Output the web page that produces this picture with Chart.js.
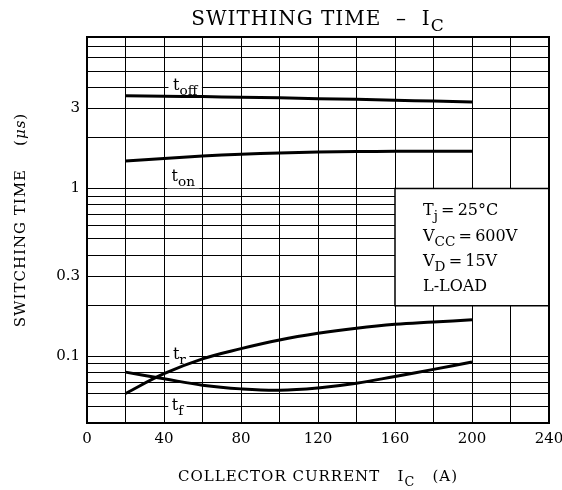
<!DOCTYPE html>
<html lang="en">
<head>
<meta charset="UTF-8">
<title>Switching Time - Ic</title>
<script src="https://cdn.jsdelivr.net/npm/chart.js"></script>
<style>
  html, body { margin: 0; padding: 0; background: #fff; }
  canvas { display: block; }
</style>
</head>
<body>
<canvas id="chart" width="562" height="490"></canvas>
<script>
  // values (Ic in A, times in microseconds)
  const currents = [20, 40, 60, 80, 100, 120, 140, 160, 180, 200];
  const tOff = [3.57, 3.55, 3.53, 3.50, 3.47, 3.43, 3.40, 3.36, 3.32, 3.28];
  const tOn  = [1.46, 1.51, 1.56, 1.60, 1.63, 1.65, 1.66, 1.665, 1.665, 1.665];
  const tR   = [0.060, 0.0787, 0.0965, 0.111, 0.125, 0.137, 0.147, 0.155, 0.160, 0.165];
  const tF   = [0.0804, 0.0734, 0.0672, 0.0639, 0.0627, 0.0647, 0.069, 0.0758, 0.0835, 0.0924];

  const yGridValues = [0.04, 0.05, 0.06, 0.07, 0.08, 0.09, 0.1, 0.2, 0.3, 0.4, 0.5, 0.6, 0.7, 0.8, 0.9, 1, 2, 3, 4, 5, 6, 7, 8];
  const yTickLabels = [0.1, 0.3, 1, 3];
  const xTickLabels = [0, 40, 80, 120, 160, 200, 240];

  const SERIF = '"DejaVu Serif", serif';

  function pts(ys) {
    return currents.map((x, i) => ({ x: x, y: ys[i] }));
  }

  // draws text made of parts: [[text, 'sub'|'it'|undefined], ...]
  function richText(ctx, parts, x, y, size, align, spacing) {
    const fontOf = kind => (kind === 'it' ? 'italic ' : '') + (kind === 'sub' ? size * 0.85 : size) + 'px ' + SERIF;
    ctx.letterSpacing = (spacing || 0) + 'px';
    const widths = parts.map(([t, kind]) => { ctx.font = fontOf(kind); return ctx.measureText(t).width; });
    const total = widths.reduce((a, b) => a + b, 0);
    let cx = align === 'center' ? x - total / 2 : (align === 'right' ? x - total : x);
    ctx.textAlign = 'left';
    ctx.textBaseline = 'alphabetic';
    parts.forEach(([t, kind], i) => {
      ctx.font = fontOf(kind);
      ctx.fillText(t, cx, kind === 'sub' ? y + size * 0.3 : y);
      cx += widths[i];
    });
    ctx.letterSpacing = '0px';
    return total;
  }

  const annotations = {
    id: 'annotations',
    beforeDraw(chart) {
      const ctx = chart.ctx;
      ctx.save();
      ctx.fillStyle = '#fff';
      ctx.fillRect(0, 0, chart.width, chart.height);
      ctx.restore();
    },
    beforeDatasetsDraw(chart) {
      const { ctx, scales: { x, y } } = chart;
      ctx.save();
      // condition box
      const bx = x.getPixelForValue(160), by = y.getPixelForValue(1);
      const bw = x.getPixelForValue(240) - bx, bh = y.getPixelForValue(0.2) - by;
      ctx.fillStyle = '#fff';
      ctx.fillRect(bx, by, bw, bh);
      ctx.strokeStyle = '#000';
      ctx.lineWidth = 1.5;
      ctx.strokeRect(bx, by, bw, bh);
      ctx.fillStyle = '#000';
      const lines = [
        [['T'], ['j', 'sub'], ['\u2009=\u200925°C']],
        [['V'], ['CC', 'sub'], ['\u2009=\u2009600V']],
        [['V'], ['D', 'sub'], ['\u2009=\u200915V']],
        [['L-LOAD']]
      ];
      lines.forEach((parts, i) => richText(ctx, parts, bx + 28, by + 27 + i * 25.3, 16, 'left'));

      // curve labels with white background
      const labels = [
        { parts: [['t'], ['off', 'sub']], x: 51, y: 4 },
        { parts: [['t'], ['on', 'sub']], x: 50, y: 1.15 },
        { parts: [['t'], ['r', 'sub']], x: 48, y: 0.1 },
        { parts: [['t'], ['f', 'sub']], x: 47, y: 0.05 }
      ];
      labels.forEach(l => {
        const px = x.getPixelForValue(l.x), py = y.getPixelForValue(l.y);
        ctx.font = '16px ' + SERIF;
        const w = ctx.measureText(l.parts.map(p => p[0]).join('')).width + 6;
        ctx.fillStyle = '#fff';
        ctx.fillRect(px - w / 2, py - 10, w, 20);
        ctx.fillStyle = '#000';
        richText(ctx, l.parts, px, py + 3, 16, 'center');
      });
      ctx.restore();
    },
    afterDatasetsDraw(chart) {
      const { ctx, chartArea: a } = chart;
      ctx.save();
      ctx.strokeStyle = '#000';
      ctx.lineWidth = 2;
      ctx.strokeRect(a.left, a.top, a.right - a.left, a.bottom - a.top);
      ctx.fillStyle = '#000';
      // title
      richText(ctx, [['SWITHING TIME  \u2013  I'], ['C', 'sub']], (a.left + a.right) / 2, 25, 20, 'center', 1);
      // x axis title
      richText(ctx, [['COLLECTOR CURRENT   I'], ['C', 'sub'], ['   (A)']], (a.left + a.right) / 2, 481, 15, 'center', 1);
      // y axis title
      ctx.translate(25, 220);
      ctx.rotate(-Math.PI / 2);
      richText(ctx, [['SWITCHING TIME    ('], ['\u03bcs', 'it'], [')']], 0, 0, 15, 'center', 1);
      ctx.restore();
    }
  };

  const lineStyle = { borderColor: '#000', borderWidth: 3, pointRadius: 0, fill: false, tension: 0.4 };

  new Chart(document.getElementById('chart'), {
    type: 'line',
    data: {
      datasets: [
        Object.assign({ label: 'toff', data: pts(tOff) }, lineStyle),
        Object.assign({ label: 'ton', data: pts(tOn) }, lineStyle),
        Object.assign({ label: 'tr', data: pts(tR) }, lineStyle),
        Object.assign({ label: 'tf', data: pts(tF) }, lineStyle)
      ]
    },
    options: {
      responsive: false,
      animation: false,
      devicePixelRatio: 1,
      layout: { padding: { left: 0, top: 37, right: 13, bottom: 0 } },
      plugins: { legend: { display: false }, tooltip: { enabled: false }, title: { display: false } },
      scales: {
        x: {
          type: 'linear', min: 0, max: 240,
          grid: { color: '#000', lineWidth: 1, drawTicks: false },
          border: { display: false },
          ticks: {
            stepSize: 20, autoSkip: false, maxRotation: 0, padding: 7, color: '#000',
            font: { family: SERIF, size: 15 },
            callback: v => xTickLabels.includes(v) ? String(v) : ''
          },
          afterFit(s) { s.height = 67; s.paddingLeft = 0; s.paddingRight = 0; }
        },
        y: {
          type: 'logarithmic', min: 0.04, max: 8,
          grid: { color: '#000', lineWidth: 1, drawTicks: false },
          border: { display: false },
          afterBuildTicks(s) { s.ticks = yGridValues.map(v => ({ value: v })); },
          ticks: {
            autoSkip: false, padding: 7, color: '#000',
            font: { family: SERIF, size: 15 },
            callback: v => yTickLabels.some(t => Math.abs(t - v) < 1e-9) ? String(v) : ''
          },
          afterFit(s) { s.width = 87; s.paddingTop = 0; s.paddingBottom = 0; }
        }
      }
    },
    plugins: [annotations]
  });
</script>
</body>
</html>
